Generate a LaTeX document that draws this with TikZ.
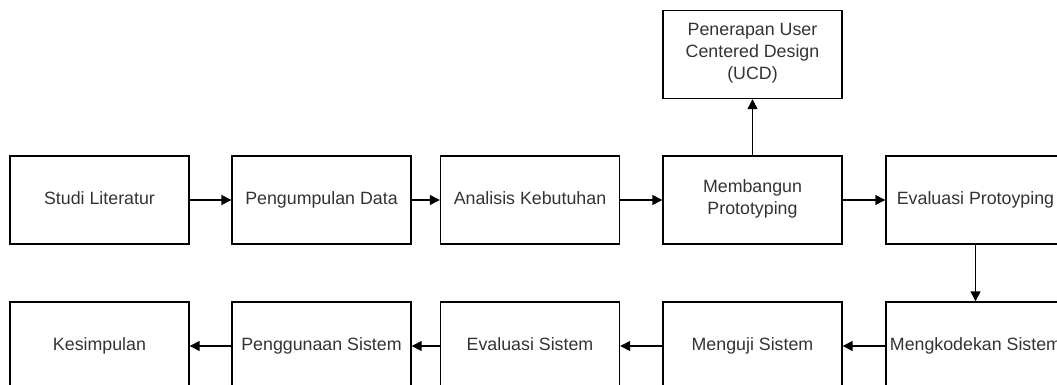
\documentclass[tikz,border=0pt]{standalone}
\usepackage{fontspec}
\setmainfont{Liberation Sans}
\usetikzlibrary{arrows.meta}

\tikzset{
  stage/.style={draw,line width=1.4pt,minimum width=179pt,minimum height=88pt,
    inner sep=0pt,align=center,text=black!80,font=\fontsize{17.8}{22}\selectfont,
    execute at begin node=\strut,execute at end node=\strut},
  flow/.style={line width=1.4pt,-{Triangle[length=10pt,width=10pt]}}
}

\begin{document}
\begin{tikzpicture}[x=1pt,y=-1pt]
            \useasboundingbox (0,0) rectangle (1057,385);

            % top row
            \node[stage] (studi) at (99.5,200) {Studi Literatur};
            \node[stage] (kumpul) at (321.5,200) {Pengumpulan Data};
            \node[stage] (analisis) at (530,200) {Analisis Kebutuhan};
            \node[stage] (bangun) at (752.5,200) {Membangun\\Prototyping};
            \node[stage] (evproto) at (975.5,200) {Evaluasi Protoyping};
            \node[stage] (ucd) at (752.5,54.5) {Penerapan User\\Centered Design\\(UCD)};

            % bottom row
            \node[stage] (kode) at (975.5,346) {Mengkodekan Sistem};
            \node[stage] (uji) at (752.5,346) {Menguji Sistem};
            \node[stage] (evsis) at (530,346) {Evaluasi Sistem};
            \node[stage] (guna) at (321.5,346) {Penggunaan Sistem};
            \node[stage] (simpul) at (99.5,346) {Kesimpulan};

            \draw[flow] (studi) -- (kumpul);
            \draw[flow] (kumpul) -- (analisis);
            \draw[flow] (analisis) -- (bangun);
            \draw[flow] (bangun) -- (evproto);
            \draw[flow] (bangun) -- (ucd);
            \draw[flow] (evproto) -- (kode);
            \draw[flow] (kode) -- (uji);
            \draw[flow] (uji) -- (evsis);
            \draw[flow] (evsis) -- (guna);
            \draw[flow] (guna) -- (simpul);
\end{tikzpicture}
\end{document}
